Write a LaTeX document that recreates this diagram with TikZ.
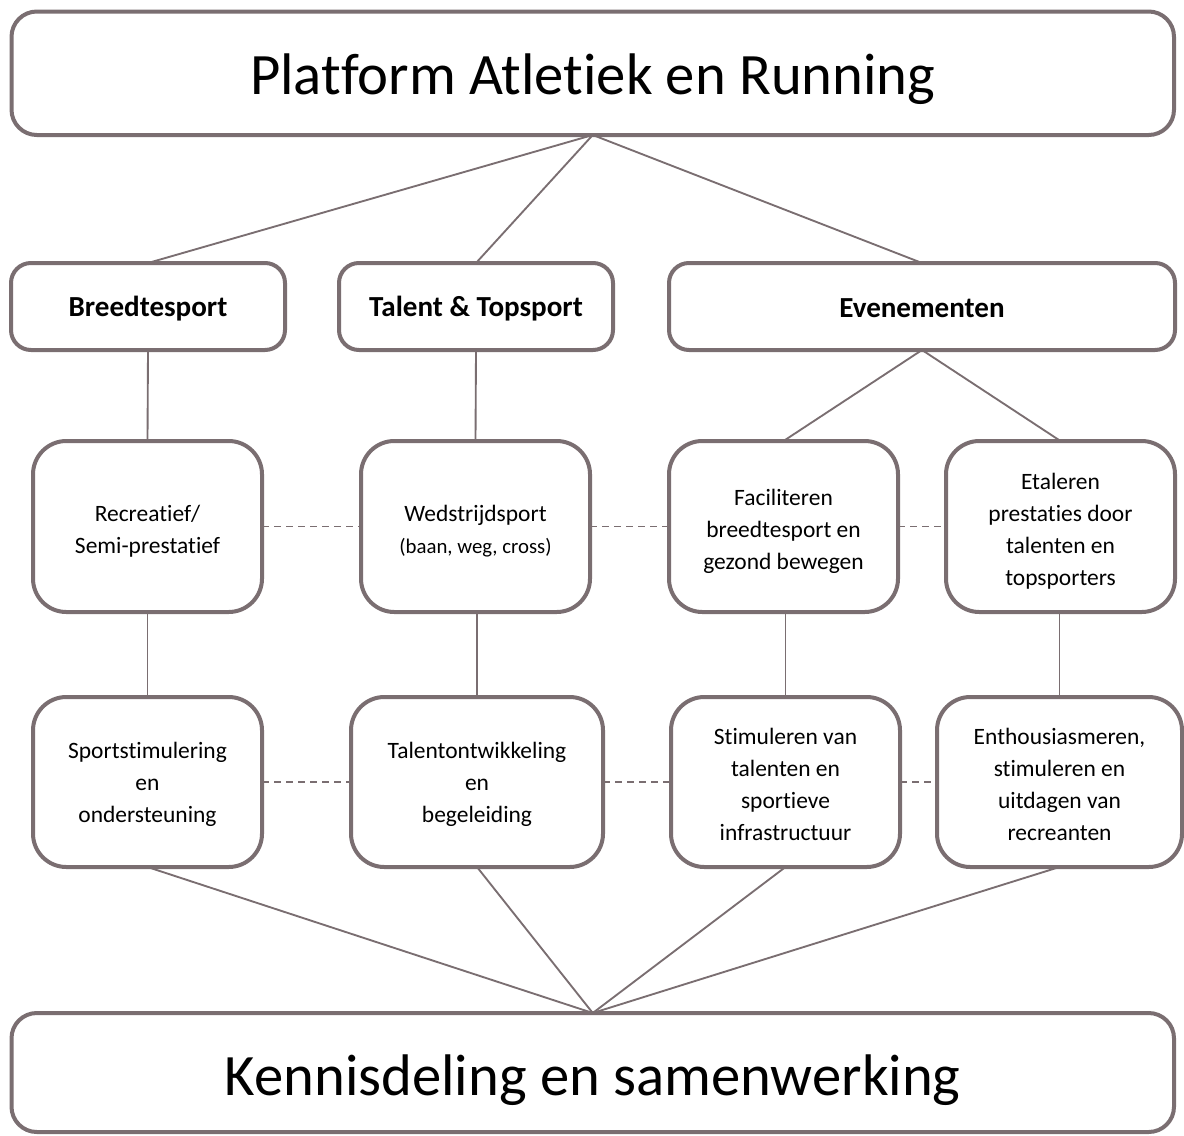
\documentclass[tikz,border=0pt]{standalone}
\usepackage{fontspec}
\setmainfont{Carlito}[Ligatures=NoCommon]
\definecolor{frame}{RGB}{122,110,113}
\tikzset{
  basebox/.style={draw=frame, line width=3pt, fill=white, inner sep=0pt, outer sep=0pt},
  bigbox/.style={basebox, rounded corners=19pt},
  headbox/.style={basebox, rounded corners=15pt},
  itembox/.style={basebox, rounded corners=25pt},
  bigtext/.style={inner sep=0pt, align=center, text=black, font=\fontsize{44}{52}\selectfont},
  headtext/.style={inner sep=0pt, align=center, text=black, font=\fontsize{21.8}{26}\selectfont\bfseries},
  itemtext/.style={inner sep=0pt, align=center, text=black, font=\fontsize{17.6}{24}\selectfont},
  wh/.style 2 args={minimum width={#1*0.75pt}, minimum height={#2*0.75pt}},
  link/.style={draw=frame, line width=1.4pt},
  dlink/.style={draw=frame, line width=1.3pt, dash pattern=on 5pt off 4pt}
}
\begin{document}
\begin{tikzpicture}[x=0.75pt,y=-0.75pt]
\useasboundingbox (0,0) rectangle (1184,1135);
% boxes
\node[bigbox, wh={1162.5}{123.5}, label={[bigtext, yshift=-4.5pt]center:Platform Atletiek en Running}] (top) at (592.75,73.25) {};
\node[bigbox, wh={1162.5}{119}, label={[bigtext, yshift=-6pt]center:Kennisdeling en samenwerking}] (bot) at (592.75,1072.5) {};

\node[headbox, wh={274}{87}, label={[headtext, yshift=-1.5pt]center:Breedtesport}] (bs) at (148,306.5) {};
\node[headbox, wh={274}{87}, label={[headtext, yshift=-1.5pt]center:Talent \& Topsport}] (tt) at (476,306.5) {};
\node[headbox, wh={506}{87}, label={[headtext, yshift=-1.5pt]center:Evenementen}] (ev) at (922,306.5) {};

\node[itembox, wh={229}{171}, label={[itemtext, yshift=-3.5pt]center:{Recreatief/\\Semi-prestatief}}] (rec) at (147.5,526.5) {};
\node[itembox, wh={229}{171}, label={[itemtext, yshift=-3.5pt]center:{Wedstrijdsport\\{\fontsize{15.6}{24}\selectfont(baan, weg, cross)}}}] (wed) at (475.5,526.5) {};
\node[itembox, wh={229}{171}, label={[itemtext, yshift=-3.5pt]center:{Faciliteren\\breedtesport en\\gezond bewegen}}] (fac) at (783.5,526.5) {};
\node[itembox, wh={229}{171}, label={[itemtext, yshift=-3.5pt]center:{Etaleren\\prestaties door\\talenten en\\topsporters}}] (eta) at (1060.5,526.5) {};

\node[itembox, wh={229}{170}, label={[itemtext, yshift=-2pt]center:{Sportstimulering\\en\\ondersteuning}}] (spo) at (147.5,782) {};
\node[itembox, wh={252}{170}, label={[itemtext, yshift=-2pt]center:{Talentontwikkeling\\en\\begeleiding}}] (tal) at (477,782) {};
\node[itembox, wh={229}{170}, label={[itemtext, yshift=-2pt]center:{Stimuleren van\\talenten en\\sportieve\\infrastructuur}}] (sti) at (785.5,782) {};
\node[itembox, wh={245}{170}, label={[itemtext, yshift=-2pt]center:{Enthousiasmeren,\\stimuleren en\\uitdagen van\\recreanten}}] (ent) at (1059.5,782) {};

% connectors
\path[link] (top.south) -- (bs.north);
\path[link] (top.south) -- (tt.north);
\path[link] (top.south) -- (ev.north);
\path[link] (bs.south) -- (rec.north);
\path[link] (tt.south) -- (wed.north);
\path[link] (ev.south) -- (fac.north);
\path[link] (ev.south) -- (eta.north);
\path[link] (spo.north |- rec.south) -- (spo.north);
\path[link] (tal.north |- wed.south) -- (tal.north);
\path[link] (sti.north |- fac.south) -- (sti.north);
\path[link] (ent.north |- eta.south) -- (ent.north);
\path[link] (spo.south) -- (bot.north);
\path[link] (tal.south) -- (bot.north);
\path[link] (sti.south) -- (bot.north);
\path[link] (ent.south) -- (bot.north);
\path[dlink] (rec.east) -- (wed.west);
\path[dlink] (wed.east) -- (fac.west);
\path[dlink] (fac.east) -- (eta.west);
\path[dlink] (spo.east) -- (tal.west);
\path[dlink] (tal.east) -- (sti.west);
\path[dlink] (sti.east) -- (ent.west);
\end{tikzpicture}
\end{document}
